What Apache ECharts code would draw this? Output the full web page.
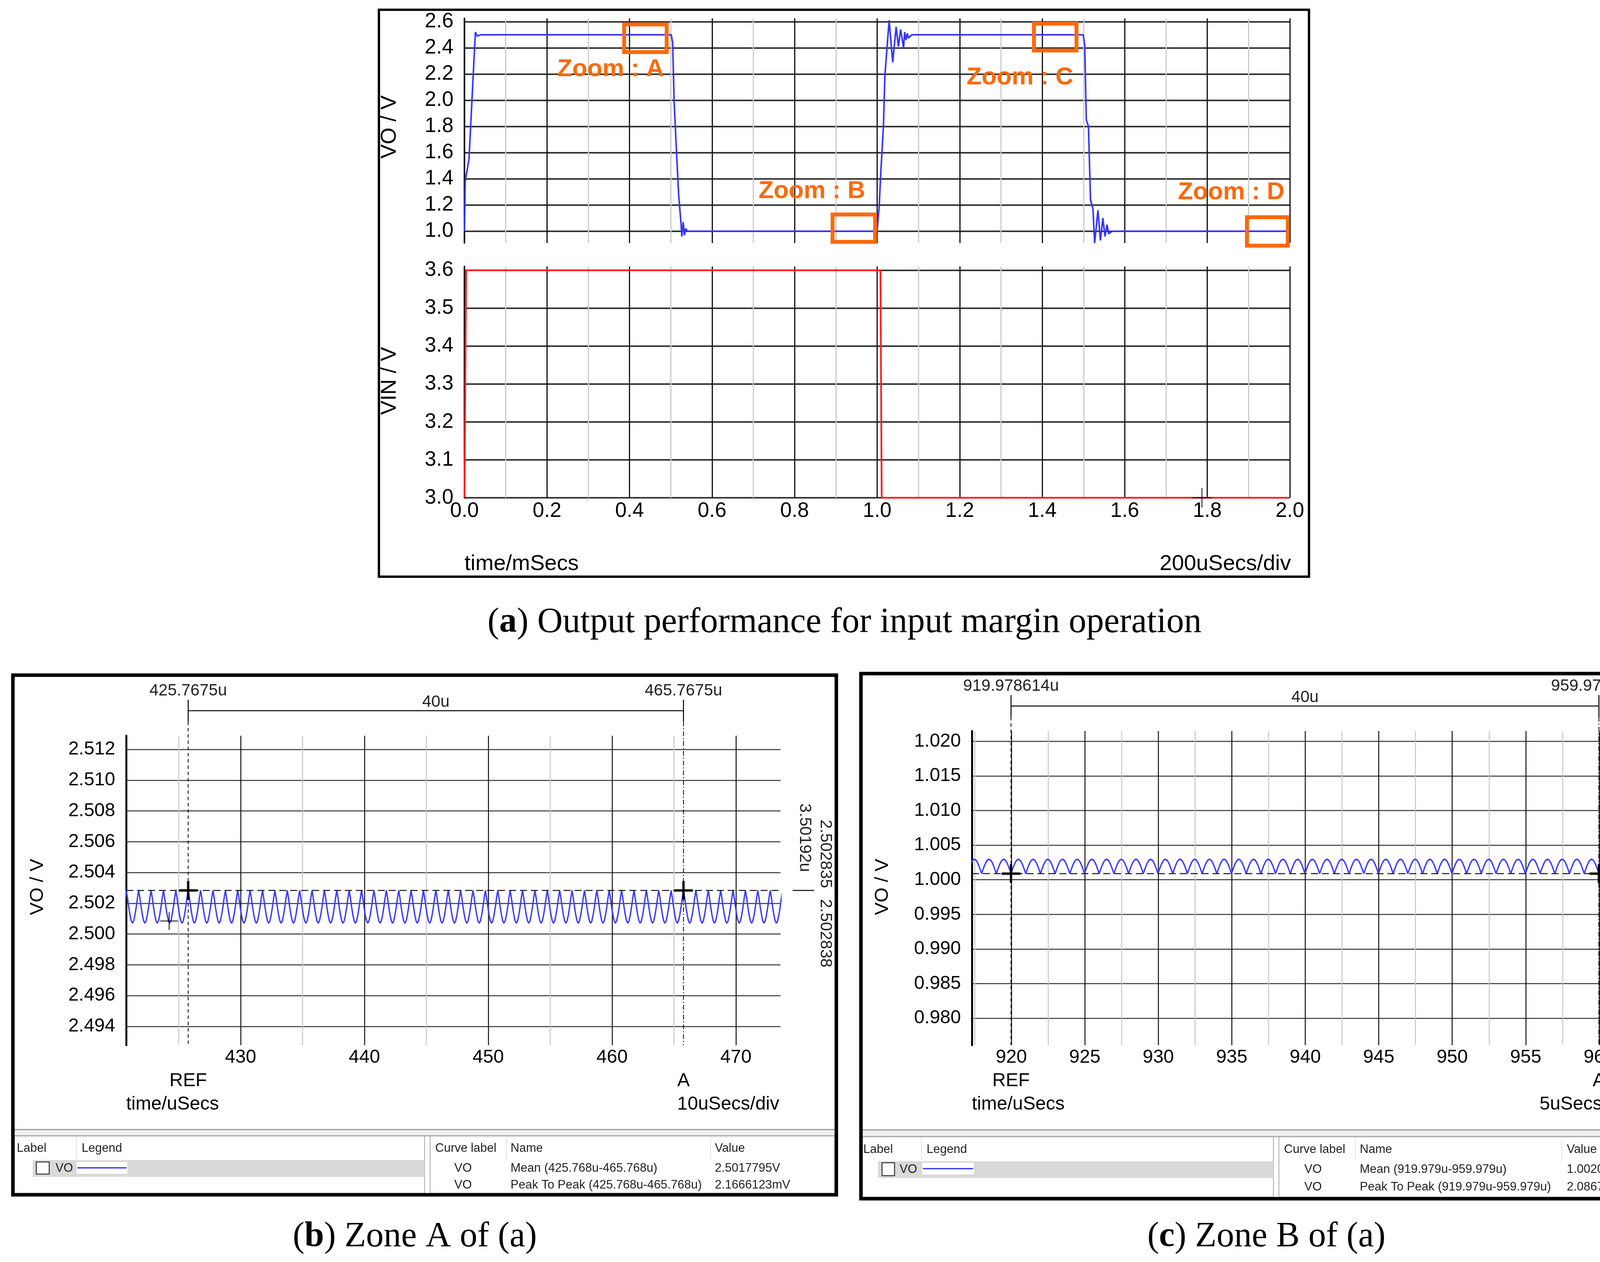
<!DOCTYPE html>
<html>
<head>
<meta charset="utf-8">
<script src="https://cdn.jsdelivr.net/npm/echarts@6/dist/echarts.min.js"></script>
<style>html,body{margin:0;padding:0;background:#fff}#c{width:4364px;height:3230px}</style>
</head>
<body>
<div id="c"></div>
<script>
// ---------------- DATA ----------------
// (a) top: VO output voltage (time in ms, volts)
const voTime  = [0, 0.0018, 0.011, 0.0265, 0.031, 0.04,
  0.501, 0.5045, 0.508, 0.5136, 0.519, 0.5245, 0.5268, 0.530, 0.533, 0.536, 0.540,
  0.998, 1.0, 1.005, 1.0087, 1.0152, 1.0188, 1.029,
  1.0377, 1.046, 1.0514, 1.0569, 1.064, 1.0667, 1.070, 1.073, 1.076, 1.084,
  1.4993, 1.503, 1.5068, 1.512, 1.517, 1.523, 1.527,
  1.535, 1.541, 1.547, 1.552, 1.557, 1.561, 1.569, 2.0];
const voValue = [1.0, 1.38, 1.55, 2.52, 2.49, 2.5,
  2.5, 2.44, 1.995, 1.62, 1.28, 1.07, 0.96, 1.07, 0.97, 1.02, 1.0,
  1.0, 1.0, 1.19, 1.44, 1.80, 2.19, 2.61,
  2.29, 2.56, 2.41, 2.54, 2.40, 2.52, 2.46, 2.51, 2.475, 2.5,
  2.5, 2.42, 1.85, 1.80, 1.24, 1.17, 0.91,
  1.16, 0.93, 1.10, 0.96, 1.05, 0.98, 1.0, 1.0];
// (a) bottom: VIN input voltage
const vinTime  = [0, 0.004, 1.008, 1.011, 2.0];
const vinValue = [3.0, 3.6, 3.6, 3.0, 3.0];

// (b) Zone A: ripple peaks (us) and one cycle's shape (offset us, volts)
const zoneA_peakTimes = [419.77, 420.77, 421.77, 422.77, 423.77, 424.77, 425.77, 426.77, 427.77, 428.77,
  429.77, 430.77, 431.77, 432.77, 433.77, 434.77, 435.77, 436.77, 437.77, 438.77,
  439.77, 440.77, 441.77, 442.77, 443.77, 444.77, 445.77, 446.77, 447.77, 448.77,
  449.77, 450.77, 451.77, 452.77, 453.77, 454.77, 455.77, 456.77, 457.77, 458.77,
  459.77, 460.77, 461.77, 462.77, 463.77, 464.77, 465.77, 466.77, 467.77, 468.77,
  469.77, 470.77, 471.77, 472.77, 473.77];
const zoneA_cycleOffsets = [0, 0.1, 0.2, 0.3, 0.4, 0.5, 0.6, 0.7, 0.8, 0.9];
const zoneA_cycleValues  = [2.50284, 2.50234, 2.50174, 2.50124, 2.50086, 2.50070, 2.50086, 2.50124, 2.50174, 2.50234];

// (c) Zone B: ripple troughs (us) and one cycle's shape
const zoneB_troughTimes = [916.98, 917.98, 918.98, 919.98, 920.98, 921.98, 922.98, 923.98, 924.98, 925.98,
  926.98, 927.98, 928.98, 929.98, 930.98, 931.98, 932.98, 933.98, 934.98, 935.98,
  936.98, 937.98, 938.98, 939.98, 940.98, 941.98, 942.98, 943.98, 944.98, 945.98,
  946.98, 947.98, 948.98, 949.98, 950.98, 951.98, 952.98, 953.98, 954.98, 955.98,
  956.98, 957.98, 958.98, 959.98, 960.98, 961.98];
const zoneB_cycleOffsets = [0, 0.1, 0.2, 0.3, 0.4, 0.5, 0.6, 0.7, 0.8, 0.9];
const zoneB_cycleValues  = [1.00089, 1.00151, 1.00209, 1.00255, 1.00286, 1.00297, 1.00286, 1.00255, 1.00209, 1.00151];

// cursors
const cursorA_times  = [425.7675, 465.7675];
const cursorA_values = [2.502835, 2.502838];
const cursorA_labels = ['425.7675u', '465.7675u'];
const cursorB_times  = [919.978614, 959.978613];
const cursorB_values = [1.000891, 1.000886];
const cursorB_labels = ['919.978614u', '959.978613u'];

// zoom annotation regions on (a) (ms, volts)
const zoomNames = ['A', 'B', 'C', 'D'];
const zoomT0 = [0.387, 0.892, 1.380, 1.896];
const zoomT1 = [0.490, 0.995, 1.483, 1.995];
const zoomV0 = [2.368, 0.919, 2.380, 0.890];
const zoomV1 = [2.579, 1.128, 2.585, 1.107];
const zoomLabelT = [0.354, 0.842, 1.346, 1.858];
const zoomLabelV = [2.236, 1.304, 2.174, 1.295];

// measurement tables
const tableA = [['VO', 'Mean (425.768u-465.768u)', '2.5017795V'], ['VO', 'Peak To Peak (425.768u-465.768u)', '2.1666123mV']];
const tableB = [['VO', 'Mean (919.979u-959.979u)', '1.0020169V'], ['VO', 'Peak To Peak (919.979u-959.979u)', '2.0867708mV']];

// ---------------- BUILD ----------------
function zip(a, b) { return a.map((v, i) => [v, b[i]]); }
function buildRipple(starts, offs, vals) {
  const out = [];
  starts.forEach(s => offs.forEach((o, i) => out.push([+(s + o).toFixed(4), vals[i]])));
  return out;
}
const SANS = '"Liberation Sans", Arial, sans-serif';
const SERIF = '"Liberation Serif", "Times New Roman", serif';

function xAx(gi, o) {
  return Object.assign({
    type: 'value', gridIndex: gi,
    axisLine: { show: false }, axisTick: { show: false },
    axisLabel: { show: false },
    splitLine: { show: true, lineStyle: { color: '#111', width: 3 } },
    minorTick: { show: false, splitNumber: 2 },
    minorSplitLine: { show: true, lineStyle: { color: '#cbcbcb', width: 3 } }
  }, o);
}
function yAx(gi, o) {
  return Object.assign({
    type: 'value', gridIndex: gi,
    axisLine: { show: true, onZero: false, lineStyle: { color: '#000', width: 4 } },
    axisTick: { show: false }
  }, o);
}

const option = {
  animation: false,
  backgroundColor: '#ffffff',
  grid: [
    { left: 1189, top: 47, width: 2113, height: 575 },
    { left: 1189, top: 682, width: 2113, height: 592 },
    { left: 323, top: 1883, width: 1675, height: 792 },
    { left: 2488, top: 1871, width: 1691, height: 804 }
  ],
  xAxis: [
    xAx(0, { min: 0, max: 2, interval: 0.2 }),
    xAx(1, { min: 0, max: 2, interval: 0.2,
      axisLabel: { show: true, fontSize: 53, fontFamily: SANS, color: '#000', margin: 8, formatter: v => v.toFixed(1) } }),
    xAx(2, { min: 420.76, max: 473.6, minInterval: 10, maxInterval: 10, splitNumber: 5,
      axisLabel: { show: true, fontSize: 48, fontFamily: SANS, color: '#000', margin: 8, showMinLabel: false, showMaxLabel: false },
      splitLine: { show: true, showMinLine: false, showMaxLine: false, lineStyle: { color: '#111', width: 2.5 } },
      minorSplitLine: { show: true, lineStyle: { color: '#c8c8c8', width: 2.5 } } }),
    xAx(3, { min: 917.316, max: 962.26, minInterval: 5, maxInterval: 5, splitNumber: 9,
      axisLabel: { show: true, fontSize: 48, fontFamily: SANS, color: '#000', margin: 8, showMinLabel: false, showMaxLabel: false },
      splitLine: { show: true, showMinLine: false, showMaxLine: false, lineStyle: { color: '#111', width: 2.5 } },
      minorSplitLine: { show: true, lineStyle: { color: '#c8c8c8', width: 2.5 } } })
  ],
  yAxis: [
    yAx(0, { min: 0.91, max: 2.625, minInterval: 0.2, maxInterval: 0.2, splitNumber: 8,
      axisLabel: { fontSize: 53, fontFamily: SANS, color: '#000', margin: 28, showMinLabel: false, showMaxLabel: false, formatter: v => v.toFixed(1) },
      splitLine: { show: true, showMinLine: false, showMaxLine: false, lineStyle: { color: '#333', width: 4 } } }),
    yAx(1, { min: 3.0, max: 3.61, minInterval: 0.1, maxInterval: 0.1, splitNumber: 6,
      axisLabel: { fontSize: 53, fontFamily: SANS, color: '#000', margin: 28, showMaxLabel: false, formatter: v => v.toFixed(1) },
      splitLine: { show: true, showMaxLine: false, lineStyle: { color: '#333', width: 4 } } }),
    yAx(2, { min: 2.49278, max: 2.51289, minInterval: 0.002, maxInterval: 0.002, splitNumber: 10,
      axisLine: { show: true, onZero: false, lineStyle: { color: '#000', width: 5 } },
      axisLabel: { fontSize: 48, fontFamily: SANS, color: '#000', margin: 28, showMinLabel: false, showMaxLabel: false, formatter: v => v.toFixed(3) },
      splitLine: { show: true, showMinLine: false, showMaxLine: false, lineStyle: { color: '#333', width: 2.5 } } }),
    yAx(3, { min: 0.9761, max: 1.0215, minInterval: 0.005, maxInterval: 0.005, splitNumber: 9,
      axisLine: { show: true, onZero: false, lineStyle: { color: '#000', width: 5 } },
      axisLabel: { fontSize: 48, fontFamily: SANS, color: '#000', margin: 28, showMinLabel: false, showMaxLabel: false, formatter: v => v.toFixed(3) },
      splitLine: { show: true, showMinLine: false, showMaxLine: false, lineStyle: { color: '#333', width: 2.5 } } })
  ],
  series: [
    { name: 'VO', type: 'line', xAxisIndex: 0, yAxisIndex: 0, data: zip(voTime, voValue),
      symbol: 'none', clip: false, lineStyle: { color: '#3535ff', width: 4 }, z: 5 },
    { name: 'VIN', type: 'line', xAxisIndex: 1, yAxisIndex: 1, data: zip(vinTime, vinValue),
      symbol: 'none', clip: false, lineStyle: { color: '#ff1f1f', width: 4.5 }, z: 5 },
    { name: 'VO zone A', type: 'line', xAxisIndex: 2, yAxisIndex: 2,
      data: buildRipple(zoneA_peakTimes, zoneA_cycleOffsets, zoneA_cycleValues),
      symbol: 'none', clip: true, lineStyle: { color: '#3b3bff', width: 3.5 }, z: 5 },
    { name: 'VO zone B', type: 'line', xAxisIndex: 3, yAxisIndex: 3,
      data: buildRipple(zoneB_troughTimes, zoneB_cycleOffsets, zoneB_cycleValues),
      symbol: 'none', clip: true, lineStyle: { color: '#3b3bff', width: 3.5 }, z: 5 }
  ]
};

const chart = echarts.init(document.getElementById('c'), null, { renderer: 'canvas', width: 4364, height: 3230 });
chart.setOption(option);

// ---------------- GRAPHICS (text, frames, cursors, tables) ----------------
const g = [];
const P = (gi, x, y) => chart.convertToPixel({ gridIndex: gi }, [x, y]);
function line(x1, y1, x2, y2, stroke, w, dash, z) {
  g.push({ type: 'line', silent: true, z: z || 30, shape: { x1, y1, x2, y2 },
    style: { stroke: stroke, lineWidth: w, lineDash: dash || null } });
}
function rect(x, y, w, h, fill, stroke, lw, z) {
  g.push({ type: 'rect', silent: true, z: z || 10, shape: { x, y, width: w, height: h },
    style: { fill: fill || 'none', stroke: stroke || null, lineWidth: lw || 0 } });
}
function txt(x, y, s, size, o) {
  o = o || {};
  const al = o.align || 'left', va = o.va || 'middle';
  g.push({ type: 'text', silent: true, x: x, y: y, rotation: o.rot || 0, z: o.z || 50,
    style: { text: s, font: (o.bold ? 'bold ' : '') + size + 'px ' + (o.family || SANS),
      fill: o.color || '#000', textAlign: al, align: al, textVerticalAlign: va, verticalAlign: va } });
}
function cross(x, y, half, w) { line(x - half, y, x + half, y, '#000', w, null, 60); line(x, y - half, x, y + half, '#000', w, null, 60); }

// frames
rect(970, 25, 2381, 1451, 'none', '#000', 6, 40);
rect(33, 1728, 2108, 1330, 'none', '#000', 9, 40);
rect(2204, 1724, 2123, 1344, 'none', '#000', 9, 40);

// (a) axis names and footers
txt(998, 325, 'VO / V', 55, { align: 'center', rot: Math.PI / 2 });
txt(998, 975, 'VIN / V', 55, { align: 'center', rot: Math.PI / 2 });
txt(1189, 1444, 'time/mSecs', 56);
txt(3305, 1444, '200uSecs/div', 56, { align: 'right' });

// zoom boxes and labels
zoomNames.forEach((n, i) => {
  const a = P(0, zoomT0[i], zoomV1[i]), b = P(0, zoomT1[i], zoomV0[i]);
  rect(a[0], a[1], b[0] - a[0], b[1] - a[1], 'none', '#fa6a0a', 10, 45);
  const c = P(0, zoomLabelT[i], zoomLabelV[i]);
  txt(c[0], c[1], 'Zoom : ' + n, 63, { align: 'center', bold: true, color: '#fa6a0a' });
});
// small cursor cross on VIN
(function () { const c = P(1, 1.787, 3.0); cross(c[0], c[1], 25, 2); })();

// captions
function caption(x, y, letter, rest) {
  g.push({ type: 'text', silent: true, x: x, y: y, z: 50,
    style: { text: '{n|(}{b|' + letter + '}{n|) ' + rest + '}', textAlign: 'center', align: 'center',
      textVerticalAlign: 'middle', verticalAlign: 'middle', fill: '#000',
      rich: { n: { fontSize: 90, fontFamily: SERIF, fill: '#000' }, b: { fontSize: 90, fontFamily: SERIF, fontWeight: 'bold', fill: '#000' } } } });
}
caption(2162, 1594, 'a', 'Output performance for input margin operation');
caption(1062, 3166, 'b', 'Zone A of (a)');
caption(3242, 3166, 'c', 'Zone B of (a)');

// zoom panels
function zoomPanel(gi, o) {
  const tl = P(gi, o.xmin, o.ymax), br = P(gi, o.xmax, o.ymin);
  const top = tl[1], bottom = br[1], left = tl[0], right = br[0];
  txt(o.nameX, o.nameY, 'VO / V', 49, { align: 'center', rot: Math.PI / 2 });
  const xs = o.times.map(t => P(gi, t, o.values[0])[0]);
  // cursor verticals
  line(xs[0], top - 36, xs[0], bottom, '#000', 2, [9, 7], 35);
  line(xs[1], top - 36, xs[1], bottom, '#000', 2, [12, 5, 3, 5], 35);
  // bracket
  line(xs[0], top - 92, xs[0], top - 36, '#000', 2.5);
  line(xs[1], top - 92, xs[1], top - 36, '#000', 2.5);
  line(xs[0], top - 64, xs[1], top - 64, '#000', 2.5);
  txt(xs[0], top - 115, o.labels[0], 42, { align: 'center', color: '#222' });
  txt(xs[1], top - 115, o.labels[1], 42, { align: 'center', color: '#222' });
  txt((xs[0] + xs[1]) / 2, top - 86, '40u', 42, { align: 'center', color: '#222' });
  // horizontal dashed at cursor level
  const yc = P(gi, o.times[0], o.values[0])[1];
  line(left, yc, right, yc, '#111', 2.5, [18, 10], 34);
  // crosses
  o.times.forEach((t, i) => { const c = P(gi, t, o.values[i]); cross(c[0], c[1], 24, 6); });
  if (o.extraCross) { const c = P(gi, o.extraCross[0], o.extraCross[1]); cross(c[0], c[1], 23, 2); }
  // right side readouts
  line(right + 31, yc, right + 86, yc, '#000', 2.5);
  txt(right + 115, yc - 6, o.readA, 42, { align: 'right', rot: -Math.PI / 2, color: '#222' });
  txt(right + 115, yc + 22, o.readB, 42, { align: 'left', rot: -Math.PI / 2, color: '#222' });
  txt(right + 62, o.deltaY, o.delta, 42, { align: 'center', rot: -Math.PI / 2, color: '#222' });
  // below axis
  txt(xs[0], bottom + 92, 'REF', 48, { align: 'center' });
  txt(xs[1], bottom + 92, 'A', 48, { align: 'center' });
  txt(left, bottom + 152, 'time/uSecs', 48);
  txt(right - 3, bottom + 152, o.div, 48, { align: 'right' });
}
zoomPanel(2, { xmin: 420.76, xmax: 473.6, ymin: 2.49278, ymax: 2.51289, times: cursorA_times, values: cursorA_values,
  labels: cursorA_labels, nameX: 96, nameY: 2270, extraCross: [424.23, 2.50085],
  readA: '2.502835', readB: '2.502838', delta: '3.50192u', deltaY: 2144, div: '10uSecs/div' });
zoomPanel(3, { xmin: 917.316, xmax: 962.26, ymin: 0.9761, ymax: 1.0215, times: cursorB_times, values: cursorB_values,
  labels: cursorB_labels, nameX: 2259, nameY: 2270,
  readA: '1.000891', readB: '1.000886', delta: '-4.45571u', deltaY: 2092, div: '5uSecs/div' });

// tables
function table(t, rows) {
  rect(t.x0, t.band[0], t.x1 - t.x0, t.band[1] - t.band[0], '#f0f0f0', null, 0, 12);
  line(t.x0, t.band[0], t.x1, t.band[0], '#9a9a9a', 3, null, 13);
  line(t.x0, t.band[1], t.x1, t.band[1], '#a6a6a6', 3, null, 13);
  rect(t.x0, t.band[1], t.lp - t.x0, t.bottom - t.band[1], '#fff', '#a8a8a8', 2, 12);
  rect(t.rp, t.band[1], t.x1 - t.rp, t.bottom - t.band[1], '#fff', '#a8a8a8', 2, 12);
  t.seps.forEach(x => line(x, t.band[1] + 2, x, t.hy + 28, '#e2e2e2', 2, null, 13));
  rect(t.hl[0], t.hl[1], t.lp - t.hl[0], t.hl[2], '#d9d9d9', null, 0, 14);
  rect(t.cb[0], t.cb[1], t.cb[2], t.cb[3], '#fff', '#333', 2.5, 15);
  rect(t.sm[0], t.sm[1], t.sm[2], t.sm[3], '#fff', null, 0, 15);
  line(t.sm[0] + 2, t.sm[1] + t.sm[3] / 2, t.sm[0] + t.sm[2] - 2, t.sm[1] + t.sm[3] / 2, '#2323ff', 3, null, 16);
  const F = 31, C = '#222';
  txt(t.hx[0], t.hy, 'Label', F, { color: C });
  txt(t.hx[1], t.hy, 'Legend', F, { color: C });
  txt(t.hx[2], t.hy, 'Curve label', F, { color: C });
  txt(t.hx[3], t.hy, 'Name', F, { color: C });
  txt(t.hx[4], t.hy, 'Value', F, { color: C });
  txt(t.vox, t.ry[0], 'VO', F, { color: C });
  rows.forEach((r, i) => {
    txt(t.cx[0], t.ry[i], r[0], F, { color: C });
    txt(t.cx[1], t.ry[i], r[1], F, { color: C });
    txt(t.cx[2], t.ry[i], r[2], F, { color: C });
  });
}
table({ x0: 37, x1: 2137, band: [2891, 2907], bottom: 3054, lp: 1087, rp: 1101, seps: [195, 1296, 1819],
  hl: [84, 2969, 43], cb: [93, 2974, 33, 31], sm: [196, 2974, 130, 30], hx: [43, 209, 1114, 1307, 1830], hy: 2939,
  vox: 142, cx: [1163, 1307, 1830], ry: [2990, 3033] }, tableA);
table({ x0: 2208, x1: 4323, band: [2892, 2909], bottom: 3064, lp: 3260, rp: 3274, seps: [2359, 3470, 3998],
  hl: [2248, 2972, 43], cb: [2258, 2976, 32, 33], sm: [2361, 2976, 132, 30], hx: [2210, 2372, 3287, 3481, 4011], hy: 2942,
  vox: 2303, cx: [3339, 3481, 4011], ry: [2993, 3038] }, tableB);

chart.setOption({ graphic: g });
</script>
</body>
</html>
